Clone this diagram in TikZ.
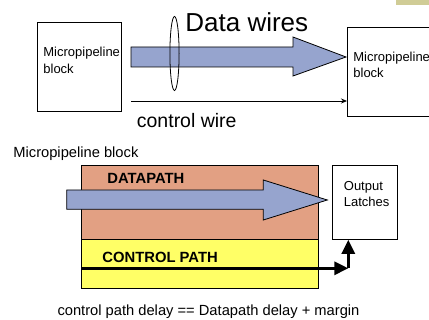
\documentclass[tikz,border=0pt]{standalone}
\usepackage{fontspec}
\setmainfont{Liberation Sans}
\usetikzlibrary{arrows.meta}
\definecolor{wireblue}{RGB}{150,164,206}
\definecolor{dpsalmon}{RGB}{226,160,131}
\definecolor{cpyellow}{RGB}{255,255,102}
\definecolor{tabkhaki}{RGB}{208,204,150}
\begin{document}
\begin{tikzpicture}[x=1pt,y=-1pt,line width=0.8pt,
  blockbox/.style={draw,rectangle,inner sep=0pt,anchor=north west},
  lbl/.style={inner sep=0pt,anchor=base west,align=left},
  smalltxt/.style={font=\fontsize{13}{16.5}\selectfont},
  midtxt/.style={font=\fontsize{14.7}{17}\selectfont},
  boldtxt/.style={font=\fontsize{14.8}{17}\selectfont\bfseries},
  busarrow/.style={draw,fill=wireblue,line width=0.8pt,line join=miter},
  thickwire/.style={line width=3pt,-{Triangle[length=14pt,width=13pt]}}]
\clip (0,0) rectangle (429,320);
% corner tab
\fill[tabkhaki] (396,0) rectangle (429,4.7);

% ---------- upper part: two blocks joined by data and control wires
\node[blockbox,minimum width=84pt,minimum height=89pt] (srcblk) at (37,22) {};
\node[lbl,smalltxt] (srctxt) at (43,73.3) {Micropipeline\\block};
\node[blockbox,minimum width=100pt,minimum height=89pt] (dstblk) at (347,27) {};
\node[lbl,smalltxt] (dsttxt) at (353,78) {Micropipeline\\block};

% data bus arrow
\draw[busarrow] (131,47) -- (293,47) -- (293,37) -- (346,57) -- (293,76)
  -- (293,67) -- (131,67) -- cycle;
% bundle ellipse
\draw (174.5,53.5) ellipse [x radius=4.6pt,y radius=37pt];
\node[lbl,font=\fontsize{26}{30}\selectfont] (datalbl) at (185,31.5) {Data wires};

% control wire
\coordinate (ctlstart) at (131,101);
\draw[-{Stealth[length=6pt,width=5pt]}] (ctlstart) -- (ctlstart -| dstblk.west);
\node[lbl,font=\fontsize{19.5}{22}\selectfont] (ctllbl) at (136.5,127.5) {control wire};

% ---------- lower part: datapath and control path inside one block
\node[lbl,midtxt] (blklbl) at (13,157.7) {Micropipeline block};
\node[blockbox,fill=dpsalmon,minimum width=237pt,minimum height=74pt] (dp) at (81,165) {};
\node[blockbox,fill=cpyellow,minimum width=237pt,minimum height=49pt] (cp) at (81,239) {};
\node[lbl,boldtxt] (dplbl) at (107,183.3) {DATAPATH};
\node[lbl,boldtxt] (cplbl) at (102,262.3) {CONTROL PATH};

\node[blockbox,minimum width=64.5pt,minimum height=74pt] (latch) at (332.3,165) {};
\node[lbl,smalltxt] (latchtxt) at (343.5,206.7) {Output\\Latches};

% datapath bus arrow
\draw[busarrow] (66.7,190) -- (263.3,190) -- (263.3,180) -- (327.3,200) -- (263.3,220)
  -- (263.3,209.3) -- (66.7,209.3) -- cycle;

% control path signal to the latches
\coordinate (cpstart) at (81,268.3);
\coordinate (cpturn) at (348.3,268.3);
\draw[thickwire] (cpstart) -- (cpturn);
\draw[thickwire] (cpturn) -- (cpturn |- latch.south);

\node[midtxt,inner sep=0pt,anchor=base] (note) at (208.5,316) {control path delay == Datapath delay + margin};
\end{tikzpicture}
\end{document}
